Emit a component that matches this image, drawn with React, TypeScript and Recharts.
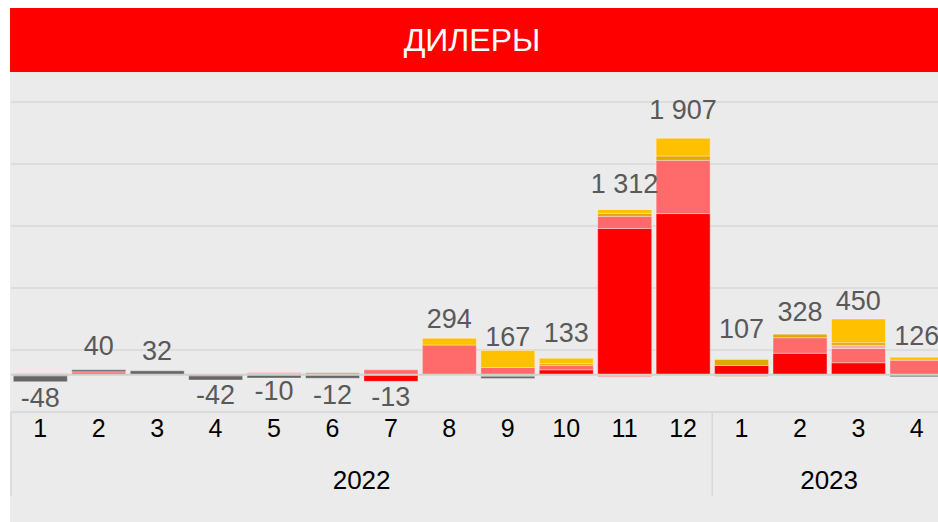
import React from 'react';
import {
  ComposedChart,
  Bar,
  Line,
  XAxis,
  YAxis,
  CartesianGrid,
  ReferenceLine,
  LabelList,
} from 'recharts';

// months and years along the axis
const months = ['1', '2', '3', '4', '5', '6', '7', '8', '9', '10', '11', '12', '1', '2', '3', '4'];
const years = [
  '2022', '2022', '2022', '2022', '2022', '2022', '2022', '2022', '2022', '2022', '2022', '2022',
  '2023', '2023', '2023', '2023',
];

// stacked series
const red = [-10, 0, 0, -10, 10, 6, -53, 0, 0, 40, 1180, 1300, 76, 174, 97, 0];
const salmon = [8, 24, 0, 0, 6, 10, 40, 240, 59, 36, 98, 430, 0, 125, 115, 118];
const pink = [0, 0, 0, 0, 0, 0, 0, 0, -12, 0, -20, 0, 0, 0, 27, 0];
const orange = [0, 0, 0, 0, 0, 0, 0, 0, 0, 0, 0, 0, -16, 0, 0, 0];
const gold = [0, 0, 0, 0, 0, 0, 0, 0, 0, 14, 24, 35, 47, 29, 20, 0];
const yellow = [0, 0, 0, 0, 0, 0, 0, 54, 137, 43, 30, 142, 0, 0, 191, 24];
const grey = [-46, 16, 32, -32, -26, -28, 0, 0, -17, 0, 0, 0, 0, 0, 0, -16];

// where the total labels sit (baseline level, same units as the bars)
const labelLevel = [-258, 161, 121, -234, -207, -234, -255, 376, 234, 268, 1469, 2061, 298, 430, 524, 242];

const yTicks = [-300, 200, 700, 1200, 1700, 2200];

const series = [
  { key: 'red', color: '#FF0000' },
  { key: 'salmon', color: '#FF6B6B' },
  { key: 'pink', color: '#FFA6A6' },
  { key: 'orange', color: '#F7B38C' },
  { key: 'gold', color: '#E1A800' },
  { key: 'yellow', color: '#FFC000' },
  { key: 'grey', color: '#666666' },
];

const fmt = (v: number) => String(v).replace(/\B(?=(\d{3})+(?!\d))/g, ' ');

const rows = months.map((m, i) => {
  const total = red[i] + salmon[i] + pink[i] + orange[i] + gold[i] + yellow[i] + grey[i];
  return {
    key: `${years[i]}-${m}`,
    month: m,
    year: years[i],
    red: red[i],
    salmon: salmon[i],
    pink: pink[i],
    orange: orange[i],
    gold: gold[i],
    yellow: yellow[i],
    grey: grey[i],
    total,
    totalLabel: fmt(total),
    labelLevel: labelLevel[i],
  };
});

const FONT = '"Liberation Sans", Arial, sans-serif';
const CHART_W = 946;
const CHART_H = 450;
const LEFT = 11;
const BAND = (CHART_W - LEFT) / rows.length;
const GRID = '#D9D9D9';

const MonthTick = (props: any) => {
  const { x, y, index } = props;
  const row = rows[index];
  if (!row) return null;
  const first = index === 0 || rows[index - 1].year !== row.year;
  const count = rows.filter((r) => r.year === row.year).length;
  const left = x - BAND / 2;
  return (
    <g>
      <text x={x} y={y + 25} textAnchor="middle" fontSize={25} fill="#000" fontFamily={FONT}>
        {row.month}
      </text>
      {first && <line x1={left} x2={left} y1={y} y2={y + 84} stroke={GRID} strokeWidth={1.5} />}
      {first && (
        <text x={left + (count * BAND) / 2} y={y + 77} textAnchor="middle" fontSize={26} fill="#000" fontFamily={FONT}>
          {row.year}
        </text>
      )}
    </g>
  );
};

const TotalLabel = (props: any) => (
  <text x={props.x} y={props.y} textAnchor="middle" fontSize={27} fill="#595959" fontFamily={FONT}>
    {props.value}
  </text>
);

export default function App() {
  return (
    <div
      style={{
        position: 'absolute',
        left: 0,
        top: 0,
        width: 938,
        height: 522,
        overflow: 'hidden',
        background: '#fff',
        fontFamily: FONT,
      }}
    >
      <div style={{ position: 'absolute', left: 10, top: 72, width: 928, height: 450, background: '#EBEBEB' }} />
      <div
        style={{
          position: 'absolute',
          left: 10,
          top: 8,
          width: 928,
          height: 64,
          background: '#FF0000',
          color: '#fff',
          fontSize: 32,
          lineHeight: '64px',
          textAlign: 'center',
          paddingRight: 4,
          boxSizing: 'border-box',
        }}
      >
        ДИЛЕРЫ
      </div>
      <div style={{ position: 'absolute', left: 0, top: 72 }}>
        <ComposedChart
          width={CHART_W}
          height={CHART_H}
          data={rows}
          stackOffset="sign"
          barCategoryGap="4%"
          margin={{ top: 30, right: 0, left: LEFT, bottom: 0 }}
        >
          <CartesianGrid vertical={false} stroke={GRID} strokeWidth={1.5} />
          <XAxis
            dataKey="key"
            height={110}
            tickLine={false}
            axisLine={{ stroke: GRID, strokeWidth: 1.5 }}
            tickSize={0}
            tickMargin={0}
            interval={0}
            tick={<MonthTick />}
          />
          <YAxis hide domain={[-300, 2200]} ticks={yTicks} />
          <ReferenceLine y={0} stroke="#D0D0D0" strokeWidth={2} />
          {series.map((s) => (
            <Bar
              key={s.key}
              dataKey={s.key}
              stackId="a"
              fill={s.color}
              stroke="rgba(255,255,255,0.35)"
              strokeWidth={1}
              isAnimationActive={false}
            />
          ))}
          <Line
            dataKey="labelLevel"
            stroke="none"
            dot={false}
            activeDot={false}
            legendType="none"
            isAnimationActive={false}
          >
            <LabelList dataKey="totalLabel" content={<TotalLabel />} />
          </Line>
        </ComposedChart>
      </div>
    </div>
  );
}
